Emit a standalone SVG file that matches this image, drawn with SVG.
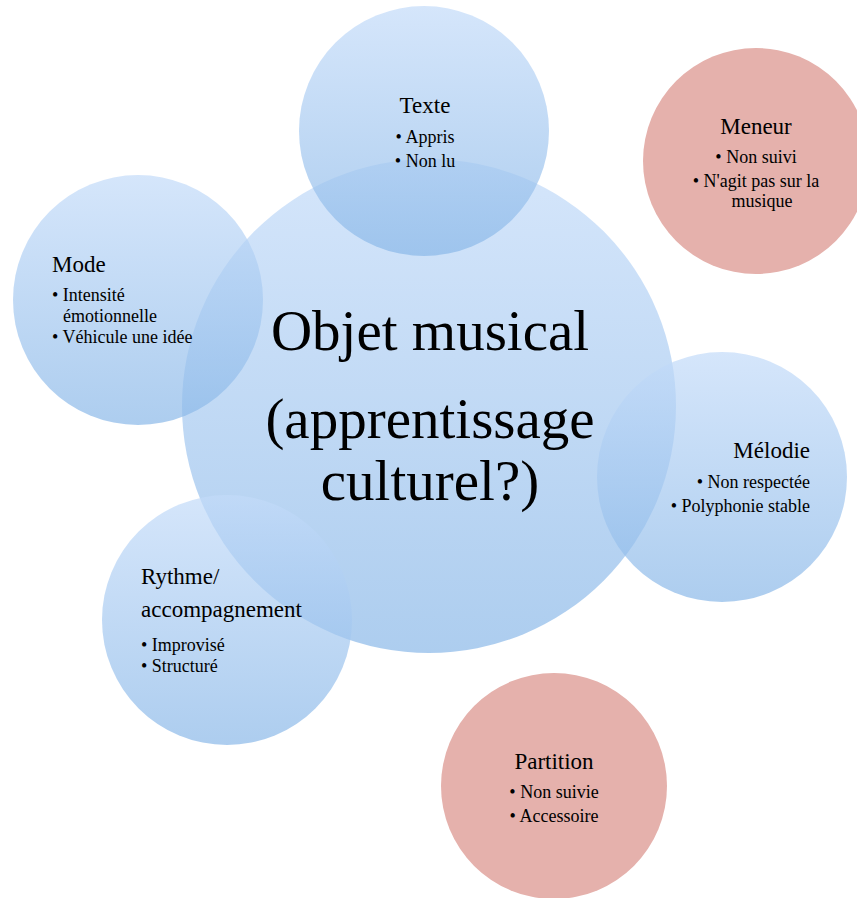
<svg xmlns="http://www.w3.org/2000/svg" width="857" height="898" viewBox="0 0 857 898">
<defs>
<linearGradient id="blue" x1="0" y1="0" x2="0" y2="1">
<stop offset="0" stop-color="#c3dbf9"/>
<stop offset="1" stop-color="#8ab8e8"/>
</linearGradient>
</defs>
<style>
.b{fill:url(#blue);fill-opacity:0.7}
.r{fill:#e5b1ac}
text{font-family:'Liberation Serif','DejaVu Serif',serif;fill:#000}
.t{font-size:23px}
.l{font-size:18px}
.big{font-size:57px}
.m{text-anchor:middle}
.e{text-anchor:end}
</style>
<rect width="857" height="898" fill="#fff"/>
<g id="connectors"/>
<g id="center">
<circle class="b" cx="429" cy="406" r="247"/>
<text class="big m" x="430" y="350">Objet musical</text>
<text class="big m" x="430" y="438">(apprentissage</text>
<text class="big m" x="430" y="500">culturel?)</text>
</g>
<g id="texte">
<circle class="b" cx="424" cy="131" r="125"/>
<text class="t m" x="425" y="113">Texte</text>
<text class="l m" x="425" y="143">• Appris</text>
<text class="l m" x="425" y="167">• Non lu</text>
</g>
<g id="meneur">
<circle class="r" cx="756" cy="161" r="113"/>
<text class="t m" x="756" y="134">Meneur</text>
<text class="l m" x="756" y="163">• Non suivi</text>
<text class="l m" x="756" y="187">• N'agit pas sur la</text>
<text class="l m" x="762" y="207">musique</text>
</g>
<g id="mode">
<circle class="b" cx="138" cy="300" r="125"/>
<text class="t" x="52" y="272">Mode</text>
<text class="l" x="52" y="301">• Intensité</text>
<text class="l" x="63" y="322">émotionnelle</text>
<text class="l" x="52" y="343">• Véhicule une idée</text>
</g>
<g id="melodie">
<circle class="b" cx="722" cy="477" r="125"/>
<text class="t e" x="810" y="458">Mélodie</text>
<text class="l e" x="810" y="488">• Non respectée</text>
<text class="l e" x="810" y="512">• Polyphonie stable</text>
</g>
<g id="rythme">
<circle class="b" cx="227" cy="620" r="125"/>
<text class="t" x="141" y="584">Rythme/</text>
<text class="t" x="141" y="617">accompagnement</text>
<text class="l" x="141" y="651">• Improvisé</text>
<text class="l" x="141" y="672">• Structuré</text>
</g>
<g id="partition">
<circle class="r" cx="554" cy="786" r="113"/>
<text class="t m" x="554" y="769">Partition</text>
<text class="l m" x="554" y="798">• Non suivie</text>
<text class="l m" x="554" y="822">• Accessoire</text>
</g>
</svg>
